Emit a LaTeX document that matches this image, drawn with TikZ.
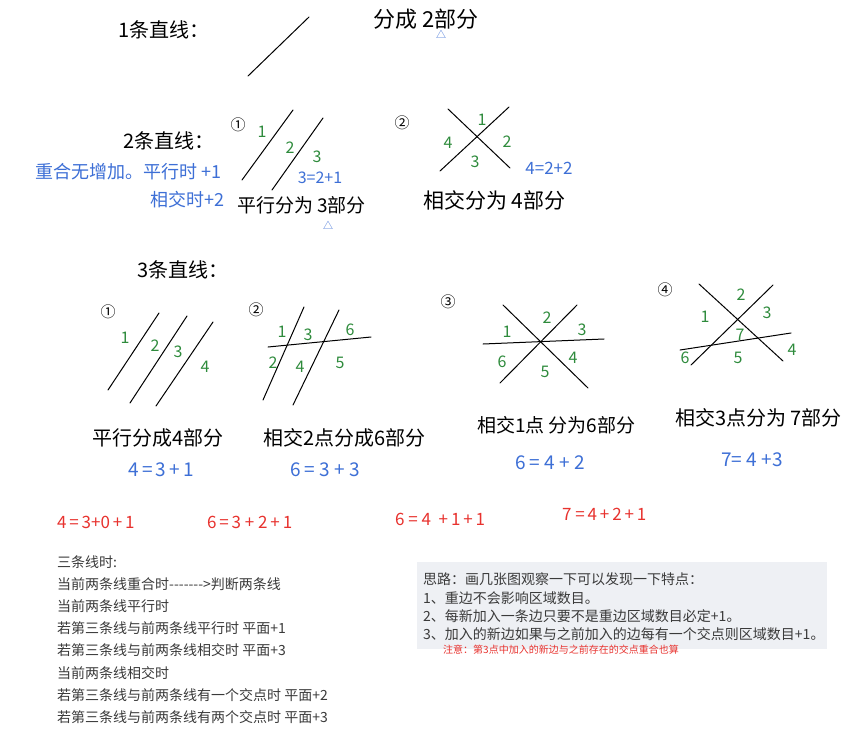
\documentclass[tikz,border=0pt]{standalone}
\usepackage{fontspec}
\setmainfont{Noto Sans CJK SC}
\definecolor{pengreen}{HTML}{2E8B3C}
\definecolor{penblue}{HTML}{3D6FD6}
\definecolor{penred}{HTML}{E8322E}
\definecolor{notegray}{HTML}{3A3A3A}
\definecolor{boxgray}{HTML}{EEF0F4}

\begin{document}
\begin{tikzpicture}[x=1pt,y=-1pt,
	pen/.style={line width=1pt,line cap=round},
	hand/.style={anchor=west,inner sep=0pt,font=\fontsize{20}{20}\selectfont},
	num/.style={inner sep=0pt,font=\fontsize{15}{15}\selectfont},
	region/.style={inner sep=0pt,text=pengreen,font=\fontsize{16}{16}\selectfont},
	sum/.style={inner sep=0pt,text=penblue,font=\fontsize{19}{19}\selectfont},
	tally/.style={anchor=west,inner sep=0pt,text=penred,font=\fontsize{17}{17}\selectfont},
	tri/.style={inner sep=0pt,text=penblue,font=\fontsize{10}{10}\selectfont},
	case/.style={anchor=west,inner sep=0pt,text=notegray,font=\fontsize{14}{14}\selectfont}
]

	\fill[white] (0,0) rectangle (856,737);
	\useasboundingbox (0,0) rectangle (856,737);

	\node[hand] at (118,30) (one) {1条直线：};
	\draw[pen] (248,76) -- (309,17);
	\node[hand,font=\fontsize{22}{22}\selectfont] at (373,19) (oneres) {分成 2部分};
	\node[tri] at (441,34) (onetri) {△};

	\node[hand] at (123,141) (two) {2条直线：};
	\node[sum,anchor=west,font=\fontsize{18}{18}\selectfont] at (35,172) (twonote) {重合无增加。平行时 +1};
	\node[sum,anchor=west,font=\fontsize{18}{18}\selectfont] at (150,200) (twocross) {相交时+2};

	\node[num] at (238,125) (n21) {①};
	\draw[pen] (242,180) -- (293,110);
	\draw[pen] (272,190) -- (323,118);
	\node[region] at (262,132) (a1) {1};
	\node[region] at (290,148) (a2) {2};
	\node[region] at (317,157) (a3) {3};
	\node[sum,font=\fontsize{16}{16}\selectfont] at (320,178) (asum) {3=2+1};
	\node[hand,font=\fontsize{19}{19}\selectfont] at (237,205) (ares) {平行分为 3部分};
	\node[tri] at (328,225) (atri) {△};

	\node[num] at (402,123) (n22) {②};
	\draw[pen] (448,109) -- (510,168);
	\draw[pen] (440,171) -- (509,107);
	\node[region] at (482,120) (b1) {1};
	\node[region] at (507,142) (b2) {2};
	\node[region] at (475,162) (b3) {3};
	\node[region] at (448,143) (b4) {4};
	\node[sum,font=\fontsize{17}{17}\selectfont] at (549,168) (bsum) {4=2+2};
	\node[hand,font=\fontsize{21}{21}\selectfont] at (423,200) (bres) {相交分为 4部分};

	\node[hand] at (137,270) (three) {3条直线：};

	\node[num] at (108,312) (n31) {①};
	\draw[pen] (108,390) -- (159,313);
	\draw[pen] (130,403) -- (187,316);
	\draw[pen] (156,406) -- (213,322);
	\node[region] at (125,338) (c1) {1};
	\node[region] at (155,346) (c2) {2};
	\node[region] at (178,352) (c3) {3};
	\node[region] at (205,367) (c4) {4};
	\node[hand] at (92,438) (cres) {平行分成4部分};
	\node[sum] at (161,470) (csum) {4\,=\,3\,+\,1};

	\node[num] at (256,310) (n32) {②};
	\draw[pen] (263,400) -- (304,307);
	\draw[pen] (293,405) -- (339,310);
	\draw[pen] (268,347) -- (371,337);
	\node[region] at (282,332) (d1) {1};
	\node[region] at (308,335) (d3) {3};
	\node[region] at (350,330) (d6) {6};
	\node[region] at (273,363) (d2) {2};
	\node[region] at (300,367) (d4) {4};
	\node[region] at (340,363) (d5) {5};
	\node[hand] at (263,438) (dres) {相交2点分成6部分};
	\node[sum] at (325,470) (dsum) {6~=~3~+~3};

	\node[num] at (448,302) (n33) {③};
	\draw[pen] (503,305) -- (588,388);
	\draw[pen] (500,383) -- (577,305);
	\draw[pen] (483,344) -- (604,339);
	\node[region] at (507,332) (e1) {1};
	\node[region] at (547,318) (e2) {2};
	\node[region] at (582,330) (e3) {3};
	\node[region] at (573,358) (e4) {4};
	\node[region] at (545,372) (e5) {5};
	\node[region] at (502,362) (e6) {6};
	\node[hand,font=\fontsize{19}{19}\selectfont] at (477,425) (eres) {相交1点 分为6部分};
	\node[sum] at (550,463) (esum) {6~=~4~+~2};

	\node[num] at (665,290) (n34) {④};
	\draw[pen] (699,284) -- (783,361);
	\draw[pen] (691,365) -- (773,285);
	\draw[pen] (680,350) -- (791,333);
	\node[region] at (705,317) (f1) {1};
	\node[region] at (741,295) (f2) {2};
	\node[region] at (767,313) (f3) {3};
	\node[region] at (792,350) (f4) {4};
	\node[region] at (738,358) (f5) {5};
	\node[region] at (685,358) (f6) {6};
	\node[region] at (740,335) (f7) {7};
	\node[hand] at (675,418) (fres) {相交3点分为 7部分};
	\node[sum] at (752,460) (fsum) {7=~4~+3};

	\node[tally] at (57,522) (g1) {4\,=\,3+0\,+\,1};
	\node[tally] at (207,522) (g2) {6\,=\,3~+~2\,+\,1};
	\node[tally] at (395,519) (g3) {6~=~4~~+\,1\,+\,1};
	\node[tally] at (562,514) (g4) {7~=\,4\,+\,2\,+\,1};

	\node[case] at (57,562) (h1) {三条线时:};
	\node[case] at (57,584) (h2) {当前两条线重合时-{}-{}-{}-{}-{}-{}->判断两条线};
	\node[case] at (57,606) (h3) {当前两条线平行时};
	\node[case] at (57,628) (h4) {若第三条线与前两条线平行时 平面+1};
	\node[case] at (57,650) (h5) {若第三条线与前两条线相交时 平面+3};
	\node[case] at (57,673) (h6) {当前两条线相交时};
	\node[case] at (57,695) (h7) {若第三条线与前两条线有一个交点时 平面+2};
	\node[case] at (57,717) (h8) {若第三条线与前两条线有两个交点时 平面+3};

	\fill[boxgray] (417,562) rectangle (827,649);
	\node[case] at (423,579) (k0) {思路：画几张图观察一下可以发现一下特点：};
	\node[case] at (423,598) (k1) {1、重边不会影响区域数目。};
	\node[case] at (423,616) (k2) {2、每新加入一条边只要不是重边区域数目必定+1。};
	\node[case] at (423,634) (k3) {3、加入的新边如果与之前加入的边每有一个交点则区域数目+1。};
	\node[case,text=penred,font=\fontsize{10}{10}\selectfont] at (443,650) (k4) {注意：第3点中加入的新边与之前存在的交点重合也算};

\end{tikzpicture}
\end{document}
